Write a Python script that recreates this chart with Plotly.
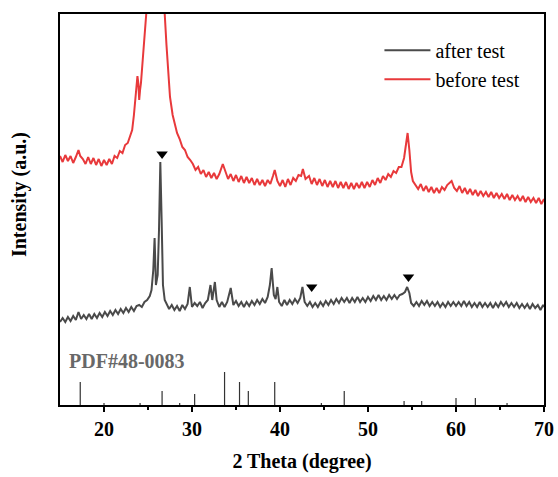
import plotly.graph_objects as go

# ---------------- data (intensity in arbitrary units) ----------------
before_x = [15.0, 15.3, 15.6, 15.9, 16.2, 16.5, 16.8, 17.1, 17.3, 17.6, 17.9, 18.2, 18.5, 18.8, 19.1, 19.4,
            19.7, 20.0, 20.3, 20.6, 20.9, 21.2, 21.5, 21.8, 22.1, 22.4, 22.7, 23.0, 23.2, 23.4, 23.6, 23.8,
            23.9, 24.0, 24.1, 24.2, 24.4, 24.6, 24.8, 25.0, 25.5, 26.0, 26.5, 26.9, 27.1, 27.3, 27.5, 27.8,
            28.0, 28.3, 28.6, 28.9, 29.2, 29.5, 29.8, 30.1, 30.4, 30.7, 31.0, 31.3, 31.6, 31.9, 32.2, 32.5,
            32.8, 33.1, 33.5, 33.8, 34.1, 34.4, 34.7, 35.0, 35.3, 35.6, 35.9, 36.2, 36.5, 36.8, 37.1, 37.4,
            37.7, 38.0, 38.3, 38.6, 38.9, 39.2, 39.4, 39.7, 40.0, 40.3, 40.6, 40.9, 41.2, 41.5, 41.8, 42.1,
            42.4, 42.6, 42.9, 43.3, 43.6, 43.9, 44.2, 44.5, 44.8, 45.1, 45.4, 45.7, 46.0, 46.3, 46.6, 46.9,
            47.2, 47.5, 47.8, 48.1, 48.4, 48.7, 49.0, 49.3, 49.6, 49.9, 50.2, 50.5, 50.8, 51.1, 51.4, 51.7,
            52.0, 52.3, 52.6, 52.9, 53.2, 53.5, 53.8, 54.1, 54.3, 54.5, 54.7, 54.9, 55.1, 55.4, 55.7, 56.0,
            56.3, 56.6, 56.9, 57.2, 57.5, 57.8, 58.1, 58.4, 58.7, 59.0, 59.3, 59.5, 59.8, 60.1, 60.4, 60.7,
            61.0, 61.3, 61.6, 61.9, 62.2, 62.5, 62.8, 63.1, 63.4, 63.7, 64.0, 64.3, 64.6, 64.9, 65.2, 65.5,
            65.8, 66.1, 66.4, 66.7, 67.0, 67.3, 67.6, 67.9, 68.2, 68.5, 68.8, 69.1, 69.4, 69.7, 70.0]
before_y = [249, 243, 250, 244, 249, 242, 248, 255, 249, 246, 241, 248, 241, 247, 240, 246,
            239, 245, 240, 246, 241, 249, 247, 254, 252, 260, 262, 270, 275, 290, 310, 329,
            322, 305, 315, 322, 345, 365, 391, 425, 505, 555, 505, 391, 360, 330, 308, 290,
            283, 272, 266, 258, 255, 248, 245, 241, 235, 238, 231, 235, 228, 233, 227, 232,
            226, 231, 241, 233, 226, 231, 224, 230, 223, 229, 222, 228, 222, 227, 220, 226,
            220, 225, 219, 225, 221, 229, 235, 224, 219, 225, 218, 226, 220, 227, 224, 230,
            229, 236, 226, 229, 221, 227, 220, 226, 219, 225, 218, 224, 218, 224, 217, 223,
            217, 223, 216, 222, 216, 222, 217, 223, 217, 223, 218, 225, 220, 227, 222, 229,
            225, 231, 228, 234, 232, 238, 238, 247, 260, 272, 255, 233, 224, 220, 216, 221,
            214, 219, 213, 218, 212, 217, 212, 218, 215, 220, 222, 224, 217, 214, 219, 212,
            217, 211, 216, 210, 215, 209, 214, 209, 213, 208, 213, 207, 212, 207, 211, 206,
            211, 205, 210, 205, 209, 204, 209, 203, 208, 203, 207, 202, 207, 201, 206]

after_x = [15.0, 15.3, 15.6, 15.9, 16.2, 16.5, 16.8, 17.1, 17.4, 17.7, 18.0, 18.3, 18.6, 18.9, 19.2, 19.5,
           19.8, 20.1, 20.4, 20.7, 21.0, 21.3, 21.6, 21.9, 22.2, 22.5, 22.8, 23.1, 23.4, 23.7, 24.0, 24.3,
           24.6, 24.9, 25.2, 25.4, 25.6, 25.75, 25.9, 26.1, 26.25, 26.4, 26.55, 26.7, 26.9, 27.1, 27.4, 27.7,
           28.0, 28.3, 28.6, 28.9, 29.2, 29.5, 29.75, 30.0, 30.3, 30.6, 30.9, 31.2, 31.5, 31.8, 32.1, 32.3,
           32.6, 32.8, 33.1, 33.4, 33.7, 34.0, 34.4, 34.7, 35.0, 35.3, 35.6, 35.9, 36.2, 36.5, 36.8, 37.1,
           37.4, 37.7, 38.0, 38.3, 38.6, 38.85, 39.05, 39.3, 39.5, 39.7, 39.9, 40.2, 40.5, 40.8, 41.1, 41.4,
           41.7, 42.0, 42.3, 42.55, 42.8, 43.1, 43.4, 43.7, 44.0, 44.3, 44.6, 44.9, 45.2, 45.5, 45.8, 46.1,
           46.4, 46.7, 47.0, 47.3, 47.6, 47.9, 48.2, 48.5, 48.8, 49.1, 49.4, 49.7, 50.0, 50.3, 50.6, 50.9,
           51.2, 51.5, 51.8, 52.1, 52.4, 52.7, 53.0, 53.3, 53.6, 53.9, 54.2, 54.45, 54.7, 54.9, 55.2, 55.5,
           55.8, 56.1, 56.4, 56.7, 57.0, 57.3, 57.6, 57.9, 58.2, 58.5, 58.8, 59.1, 59.4, 59.7, 60.0, 60.3,
           60.6, 60.9, 61.2, 61.5, 61.8, 62.1, 62.4, 62.7, 63.0, 63.3, 63.6, 63.9, 64.2, 64.5, 64.8, 65.1,
           65.4, 65.7, 66.0, 66.3, 66.6, 66.9, 67.2, 67.5, 67.8, 68.1, 68.4, 68.7, 69.0, 69.3, 69.6, 69.9,
           70.0]
after_y = [83, 87, 83, 88, 84, 89, 85, 93, 86, 90, 86, 91, 86, 91, 87, 92,
           88, 93, 89, 94, 90, 95, 91, 96, 92, 97, 93, 98, 94, 99, 100, 98,
           103, 105, 109, 115, 135, 167, 120, 130, 175, 243, 185, 120, 105, 101, 96, 100,
           95, 99, 94, 100, 96, 101, 118, 98, 102, 99, 103, 97, 102, 105, 120, 105,
           123, 105, 98, 103, 98, 103, 117, 100, 104, 99, 103, 98, 103, 99, 104, 100,
           105, 101, 106, 102, 108, 120, 137, 110, 106, 118, 103, 99, 105, 100, 105, 101,
           106, 102, 107, 118, 103, 99, 103, 98, 102, 98, 103, 99, 104, 100, 105, 101,
           106, 102, 107, 103, 107, 102, 107, 103, 108, 103, 107, 103, 108, 104, 109, 105,
           110, 105, 109, 105, 110, 106, 110, 106, 110, 111, 113, 118, 112, 102, 99, 103,
           99, 104, 100, 104, 99, 103, 99, 103, 98, 102, 98, 103, 99, 103, 99, 103,
           99, 104, 99, 103, 98, 102, 98, 103, 98, 102, 98, 102, 97, 102, 98, 103,
           99, 103, 98, 102, 98, 102, 97, 101, 97, 101, 96, 101, 97, 100, 95, 100,
           98]

# PDF#48-0083 reference lines
pdf_pos = [17.3, 20.0, 24.1, 26.6, 28.6, 30.3, 33.7, 35.4, 36.4, 39.4, 44.7, 47.3, 54.1, 56.1, 60.0, 62.2, 65.8]
pdf_int = [23, 2, 2, 14, 2, 11, 33, 23, 14, 23, 2, 14, 4, 4, 7, 7, 2]

# peak markers (triangles)
mark_x = [26.6, 43.6, 54.6]
mark_y = [251, 118, 128]

x_ticks = [20, 30, 40, 50, 60, 70]
x_minor = [25, 35, 45, 55, 65]

FONT = "Liberation Serif, Times New Roman, serif"

fig = go.Figure()

fig.add_trace(go.Scatter(x=after_x, y=after_y, mode="lines", name="after test",
                         line=dict(color="#4a4a4a", width=2)))
fig.add_trace(go.Scatter(x=before_x, y=before_y, mode="lines", name="before test",
                         line=dict(color="#e8393b", width=2)))

stick_x, stick_y = [], []
for p, h in zip(pdf_pos, pdf_int):
    stick_x += [p, p, None]
    stick_y += [0, h, None]
fig.add_trace(go.Scatter(x=stick_x, y=stick_y, mode="lines", showlegend=False,
                         line=dict(color="#333333", width=1.2)))

fig.add_trace(go.Scatter(x=mark_x, y=mark_y, mode="markers", showlegend=False,
                         marker=dict(symbol="triangle-down", size=10, color="black")))

fig.add_annotation(x=15.75, y=44, xref="x", yref="y", text="<b>PDF#48-0083</b>",
                   showarrow=False, xanchor="left", yanchor="middle",
                   font=dict(family=FONT, size=20, color="#686868"))

fig.add_annotation(x=-0.0847, y=0.537, xref="paper", yref="paper",
                   text="<b>Intensity (a.u.)</b>", textangle=-90, showarrow=False,
                   xanchor="center", yanchor="middle",
                   font=dict(family=FONT, size=20, color="black"))

fig.update_layout(
    width=558, height=477,
    margin=dict(l=60, r=14, t=14, b=72),
    paper_bgcolor="white", plot_bgcolor="white",
    font=dict(family=FONT, color="black"),
    showlegend=True,
    legend=dict(x=0.66, y=0.957, xanchor="left", yanchor="top",
                bgcolor="rgba(0,0,0,0)", borderwidth=0,
                font=dict(family=FONT, size=20, color="black"),
                tracegroupgap=0, itemwidth=46),
    xaxis=dict(range=[15, 70], tickvals=x_ticks, ticks="outside", ticklen=5, tickwidth=1.5,
               tickcolor="black", showline=True, linecolor="black", linewidth=1.5, mirror=True,
               showgrid=False, zeroline=False, automargin=False,
               minor=dict(tickvals=x_minor, ticks="outside", ticklen=3,
                          tickwidth=1.5, tickcolor="black", showgrid=False),
               tickfont=dict(family=FONT, size=20, color="black", weight="bold"),
               title=dict(text="<b>2 Theta (degree)</b>", standoff=15,
                          font=dict(family=FONT, size=20, color="black"))),
    yaxis=dict(range=[0, 391], showticklabels=False, ticks="", showline=True,
               linecolor="black", linewidth=1.5, mirror=True, showgrid=False, zeroline=False,
               automargin=False),
)

fig.write_html("out.html")
